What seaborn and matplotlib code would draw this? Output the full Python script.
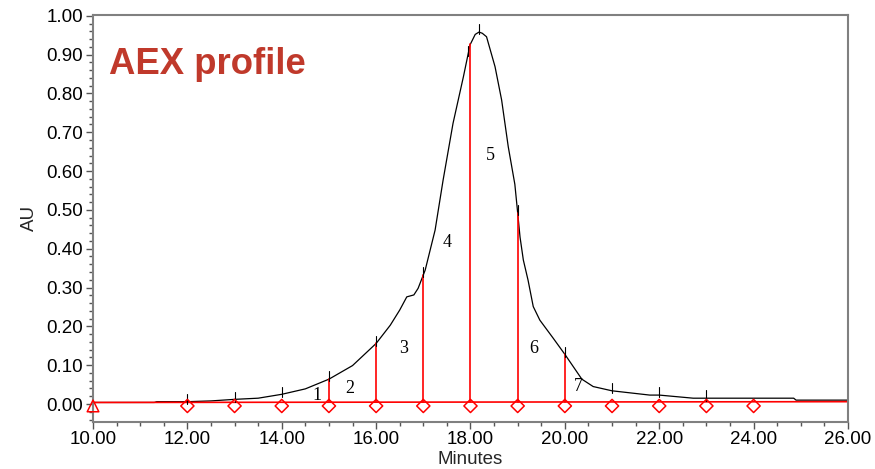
import numpy as np
import pandas as pd
import matplotlib
matplotlib.use("Agg")
import matplotlib.pyplot as plt
from matplotlib.ticker import MultipleLocator, FormatStrFormatter
import seaborn as sns

# --- data ---
times = [10.0, 11.3, 11.35, 12.0, 12.5, 13.0, 13.5, 14.0, 14.5, 15.0, 15.5, 16.0,
         16.3, 16.5, 16.65, 16.8, 16.89, 17.04, 17.25, 17.42, 17.63, 17.85, 17.99,
         18.1, 18.18, 18.25, 18.34, 18.52, 18.66, 18.8, 18.94, 18.99, 19.05, 19.12,
         19.22, 19.33, 19.47, 19.75, 20.0, 20.36, 20.6, 21.0, 21.8, 22.0, 22.72,
         24.85, 24.9, 26.0]
au = [0.004, 0.004, 0.006, 0.006, 0.008, 0.012, 0.015, 0.025, 0.039, 0.064, 0.099, 0.156,
      0.203, 0.242, 0.276, 0.281, 0.298, 0.345, 0.448, 0.577, 0.723, 0.843, 0.925,
      0.952, 0.958, 0.955, 0.946, 0.869, 0.783, 0.663, 0.566, 0.505, 0.430, 0.371,
      0.319, 0.251, 0.216, 0.170, 0.128, 0.064, 0.045, 0.034, 0.023, 0.023, 0.015,
      0.015, 0.010, 0.010]

baseline_t = [10.0, 26.0]
baseline_v = [0.004, 0.006]

drop_times = [15.0, 16.0, 17.0, 18.0, 19.0, 20.0]
event_times = [12.0, 13.0, 14.0, 15.0, 16.0, 17.0, 17.95, 18.18, 19.0, 20.0, 21.0, 22.0, 23.0]
diamond_times = [12, 13, 14, 15, 16, 17, 18, 19, 20, 21, 22, 23, 24]
marker_level = -0.005
start_time = [10.0]

peak_labels = ["1", "2", "3", "4", "5", "6", "7"]
peak_label_t = [14.74, 15.45, 16.59, 17.51, 18.43, 19.35, 20.28]
peak_label_v = [0.023, 0.040, 0.144, 0.415, 0.639, 0.142, 0.044]

title_text = "AEX profile"

# --- plotting ---
sns.set_theme(style="white")
plt.rcParams['font.family'] = ['Liberation Sans', 'DejaVu Sans']

fig = plt.figure(figsize=(8.75, 4.69), dpi=100)
ax = fig.add_axes([0.1063, 0.1009, 0.8628, 0.8671])

df = pd.DataFrame({"Minutes": times, "AU": au})
sns.lineplot(data=df, x="Minutes", y="AU", ax=ax, color="black", lw=0.9, sort=False,
             estimator=None)

red = "#ff0000"
bl = pd.DataFrame({"t": baseline_t, "v": baseline_v})
sns.lineplot(data=bl, x="t", y="v", ax=ax, color=red, lw=1.2, estimator=None)

for t in drop_times:
    top = np.interp(t, times, au)
    base = np.interp(t, baseline_t, baseline_v)
    ax.plot([t, t], [base, top], color=red, lw=1.2)

for t in event_times:
    c = np.interp(t, times, au)
    ax.plot([t, t], [c - 0.006, c + 0.02], color="black", lw=0.8)

dm = pd.DataFrame({"t": diamond_times, "v": [marker_level] * len(diamond_times)})
sns.scatterplot(data=dm, x="t", y="v", ax=ax, marker="D", s=45,
                facecolor="none", edgecolor=red, linewidth=1.1, zorder=5)
ax.scatter(start_time, [marker_level], marker="^", s=70, facecolor="none",
           edgecolor=red, linewidth=1.1, zorder=5, clip_on=False)

for lab, t, v in zip(peak_labels, peak_label_t, peak_label_v):
    ax.text(t, v, lab, ha="center", va="center", fontsize=13,
            family=['Liberation Serif', 'DejaVu Serif'], color="black")

ax.text(0.021, 0.855, title_text, transform=ax.transAxes, fontsize=26.3,
        fontweight="bold", color="#c0392b", ha="left", va="baseline")

ax.set_xlim(10, 26)
ax.set_ylim(-0.0455, 1.002)
ax.xaxis.set_major_locator(MultipleLocator(2))
ax.xaxis.set_minor_locator(MultipleLocator(0.5))
ax.yaxis.set_major_locator(MultipleLocator(0.1))
ax.yaxis.set_minor_locator(MultipleLocator(0.02))
ax.xaxis.set_major_formatter(FormatStrFormatter("%.2f"))
ax.yaxis.set_major_formatter(FormatStrFormatter("%.2f"))

ax.tick_params(axis="both", which="major", direction="out", length=5, width=1,
               color="#555555", labelsize=13.5, labelcolor="black", pad=2,
               bottom=True, left=True)
ax.tick_params(axis="both", which="minor", direction="out", length=3, width=1,
               color="#555555", bottom=True, left=True)

for s in ax.spines.values():
    s.set_color("#808080")
    s.set_linewidth(1.5)

ax.set_xlabel("Minutes", fontsize=13.5, labelpad=2)
ax.set_ylabel("AU", fontsize=13.5, labelpad=6)

fig.savefig("out.png", dpi=100)
